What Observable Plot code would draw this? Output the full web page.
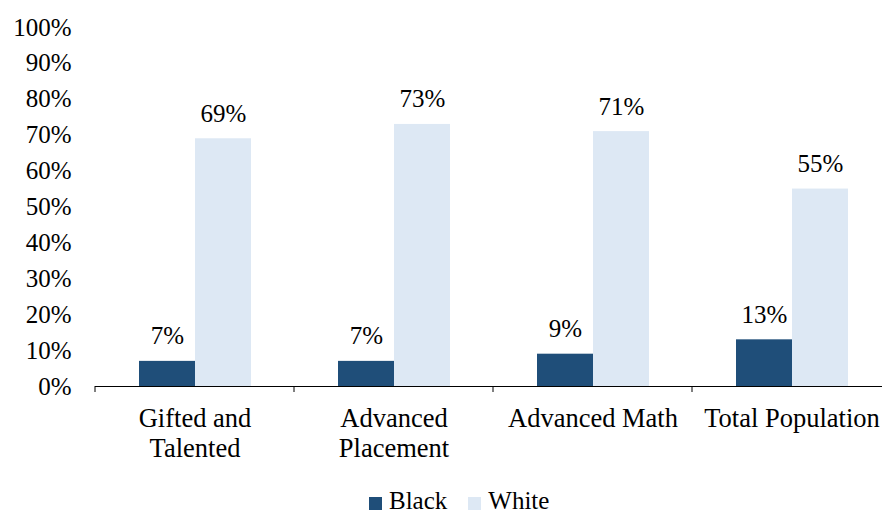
<!DOCTYPE html>
<html><head><meta charset="utf-8">
<script src="https://cdn.jsdelivr.net/npm/d3@7"></script>
<script src="https://cdn.jsdelivr.net/npm/@observablehq/plot@0.6"></script>
<style>
body{margin:0;background:#fff;}
#wrap{position:relative;width:882px;height:511px;overflow:hidden;font-family:"Liberation Serif","Times New Roman",serif;}
#legend{position:absolute;left:369px;top:491px;}
.lg-swatches{margin:0 !important;font-size:25px !important;line-height:20px !important;font-family:"Liberation Serif","Times New Roman",serif !important;color:#000 !important;min-height:0 !important;}
.lg-swatch{margin-right:21px !important;}
.lg-swatch > svg{margin-right:7px !important;position:relative;top:2px;}
</style></head><body><div id="wrap"><div id="chart"></div><div id="legend"></div></div>
<script>
const categories = ["Gifted and\nTalented", "Advanced\nPlacement", "Advanced Math", "Total Population"];
const series = ["Black", "White"];
const blackValues = [7, 7, 9, 13];
const whiteValues = [69, 73, 71, 55];
const yTicks = [0, 10, 20, 30, 40, 50, 60, 70, 80, 90, 100];
const colors = ["#1F4E79", "#DDE8F4"];

const data = categories.flatMap((c, i) => [
  {category: c, series: "Black", value: blackValues[i]},
  {category: c, series: "White", value: whiteValues[i]}
]);

const font = '"Liberation Serif","Times New Roman",serif';

const chart = Plot.plot({
  width: 882, height: 470,
  marginTop: 27, marginBottom: 84, marginLeft: 95, marginRight: -9,
  style: {fontFamily: font, fontSize: "25px", color: "#000", background: "#fff", overflow: "visible"},
  fx: {domain: categories, padding: 0, label: null, axis: null},
  x: {domain: series, paddingInner: 0, paddingOuter: 0.76, axis: null},
  y: {domain: [0, 100], label: null},
  color: {type: "ordinal", domain: series, range: colors},
  marks: [
    Plot.axisY({ticks: yTicks, tickFormat: d => d + "%", tickSize: 0, tickPadding: 24, label: null}),
    Plot.axisFx({anchor: "bottom", tickSize: 0, tickPadding: 19, lineHeight: 1.13, fontSize: 26.5, label: null}),
    Plot.barY(data, {fx: "category", x: "series", y: "value", fill: {value: "series", scale: "color"}}),
    Plot.text(data, {fx: "category", x: "series", y: "value", text: d => d.value + "%", dy: -25, fill: "#000"}),
    Plot.ruleY([0], {stroke: "#000", strokeWidth: 1})
  ]
});

// category boundary ticks on the baseline, from the fx scale
const fx = chart.scale("fx");
const ys = chart.scale("y");
const y0 = ys.apply(0);
const bounds = categories.map(c => fx.apply(c)).concat([fx.apply(categories[categories.length - 1]) + fx.bandwidth]);
d3.select(chart).append("g")
  .selectAll("line").data(bounds).join("line")
  .attr("x1", d => d).attr("x2", d => d)
  .attr("y1", y0).attr("y2", y0 + 6)
  .attr("stroke", "#000");

document.getElementById("chart").appendChild(chart);

const lg = Plot.legend({color: {type: "ordinal", domain: series, range: colors}, className: "lg", swatchSize: 13});
document.getElementById("legend").appendChild(lg);
</script>
</body></html>
